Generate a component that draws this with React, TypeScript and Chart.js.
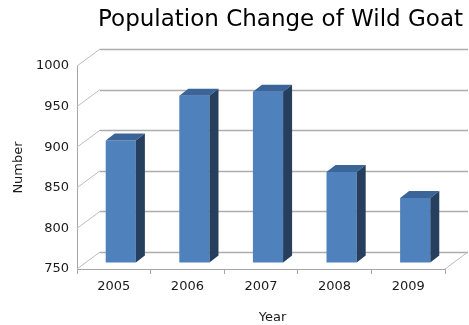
import React, { useEffect, useRef } from "react";
import { Chart, registerables } from "chart.js";

Chart.register(...registerables);

const years = ["2005", "2006", "2007", "2008", "2009"];
const population = [901, 956, 961, 862, 830];
const yTickValues = [750, 800, 850, 900, 950, 1000];
const chartTitle = "Population Change of Wild Goat";
const xTitle = "Year";
const yTitle = "Number";

// 3D look parameters
const WALL_DX = 23;
const WALL_DY = -17;
const BAR_DX = 7;
const BAR_DY = -6;
const SIDE_DX = 9;
const SIDE_DY = -7;

const threeD = {
  id: "threeD",
  beforeDatasetsDraw(chart: any) {
    const { ctx, chartArea } = chart;
    const ys = chart.scales.y;
    const { left, right, bottom } = chartArea;
    ctx.save();
    ctx.lineWidth = 1.3;
    // back wall gridlines
    ctx.strokeStyle = "#adadad";
    yTickValues.forEach((v) => {
      const y = Math.round(ys.getPixelForValue(v) + WALL_DY) + 0.5;
      ctx.beginPath();
      ctx.moveTo(left + WALL_DX, y);
      ctx.lineTo(right + WALL_DX, y);
      ctx.stroke();
    });
    // left wall diagonals
    ctx.lineWidth = 1;
    ctx.strokeStyle = "#bdbdbd";
    yTickValues.forEach((v) => {
      const y = ys.getPixelForValue(v);
      ctx.beginPath();
      ctx.moveTo(left, y);
      ctx.lineTo(left + WALL_DX, y + WALL_DY);
      ctx.stroke();
    });
    // right floor edge
    ctx.beginPath();
    ctx.moveTo(right, bottom);
    ctx.lineTo(right + WALL_DX, bottom + WALL_DY);
    ctx.stroke();
    ctx.restore();

    ctx.save();
    ctx.translate(BAR_DX, BAR_DY);
  },
  afterDatasetsDraw(chart: any) {
    const { ctx } = chart;
    const meta = chart.getDatasetMeta(0);
    meta.data.forEach((bar: any) => {
      const { x, y, width, base } = bar.getProps(["x", "y", "width", "base"], true);
      const l = x - width / 2;
      const r = x + width / 2;
      // top face
      ctx.fillStyle = "#3b6598";
      ctx.beginPath();
      ctx.moveTo(l, y);
      ctx.lineTo(r, y);
      ctx.lineTo(r + SIDE_DX, y + SIDE_DY);
      ctx.lineTo(l + SIDE_DX, y + SIDE_DY);
      ctx.closePath();
      ctx.fill();
      // side face
      ctx.fillStyle = "#263f5f";
      ctx.beginPath();
      ctx.moveTo(r, y);
      ctx.lineTo(r + SIDE_DX, y + SIDE_DY);
      ctx.lineTo(r + SIDE_DX, base + SIDE_DY);
      ctx.lineTo(r, base);
      ctx.closePath();
      ctx.fill();
    });
    ctx.restore();
  },
  afterDraw(chart: any) {
    const { ctx, chartArea } = chart;
    ctx.save();
    ctx.font = "13px 'DejaVu Sans'";
    ctx.fillStyle = "#1a1a1a";
    ctx.textAlign = "center";
    ctx.textBaseline = "middle";
    ctx.fillText(xTitle, (chartArea.left + chartArea.right + WALL_DX) / 2, 318);
    ctx.restore();
  },
};

export default function App() {
  const ref = useRef<HTMLCanvasElement | null>(null);
  useEffect(() => {
    if (!ref.current) return;
    Chart.defaults.font.family = "'DejaVu Sans'";
    const chart = new Chart(ref.current, {
      type: "bar",
      data: {
        labels: years,
        datasets: [
          {
            data: population,
            base: 750,
            backgroundColor: "#4f81bd",
            borderWidth: 0,
            barPercentage: 0.41,
            categoryPercentage: 1,
          } as any,
        ],
      },
      plugins: [threeD],
      options: {
        responsive: false,
        animation: false,
        devicePixelRatio: 1,
        layout: { padding: { left: 0, right: 6, top: 0, bottom: 0 } },
        plugins: {
          legend: { display: false },
          tooltip: { enabled: false },
          title: {
            display: true,
            text: chartTitle,
            align: "end",
            color: "#000",
            font: { family: "'DejaVu Sans'", size: 23, weight: "normal" },
            padding: { top: 6, bottom: 32.4 },
          },
        },
        scales: {
          x: {
            grid: {
              display: true,
              drawOnChartArea: false,
              drawTicks: true,
              tickLength: 5,
              color: "#a6a6a6",
            },
            border: { display: true, color: "#a6a6a6" },
            ticks: { color: "#1a1a1a", font: { size: 13 }, padding: 5 },
            afterFit: (s: any) => {
              s.height = 56;
            },
          },
          y: {
            min: 750,
            max: 1000,
            afterBuildTicks: (s: any) => {
              s.ticks = yTickValues.map((v) => ({ value: v }));
            },
            grid: { display: true, drawOnChartArea: false, drawTicks: false },
            border: { display: true, color: "#a6a6a6" },
            ticks: {
              color: "#1a1a1a",
              font: { size: 13 },
              padding: 8,
              callback: (v: any) => String(v),
            },
            title: {
              display: true,
              text: yTitle,
              color: "#1a1a1a",
              font: { size: 13 },
              padding: { top: 11, bottom: 0 },
            },
            afterFit: (s: any) => {
              s.width = 77;
            },
          },
          yRight: {
            type: "linear",
            position: "right",
            display: true,
            grid: { display: false },
            border: { display: false },
            ticks: { display: false },
            afterFit: (s: any) => {
              s.width = 18;
            },
          },
        },
      },
    });
    return () => chart.destroy();
  }, []);
  return (
    <div style={{ position: "fixed", left: 0, top: 0, width: 469, height: 325 }}>
      <canvas ref={ref} width={469} height={325} style={{ display: "block" }} />
    </div>
  );
}
